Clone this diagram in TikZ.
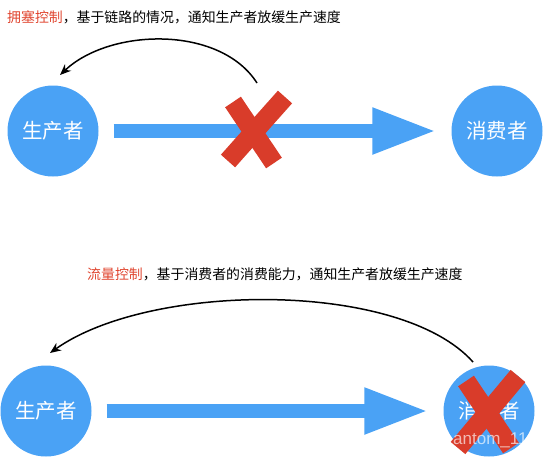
\documentclass[tikz,border=0pt]{standalone}
\usepackage{fontspec}
\newfontfamily\cjk{Noto Sans CJK SC}
\newfontfamily\wmfont{Liberation Sans}
\usetikzlibrary{arrows.meta}
\definecolor{nodeblue}{HTML}{4AA2F5}
\definecolor{crossred}{HTML}{D93C2A}
\definecolor{titlered}{HTML}{E0452F}
\tikzset{
  actor/.style={circle, fill=nodeblue, minimum size=91pt, inner sep=0pt, text=white, font=\cjk\fontsize{20.5}{24}\selectfont},
  flow/.style={draw=nodeblue, line width=14pt, shorten <=15pt, shorten >=15pt, -{Triangle[length=64pt,width=43pt]}},
  feedback/.style={draw=black, line width=1.5pt, -{Stealth[length=11pt,width=9pt]}},
  crossline/.style={draw=crossred, line width=19pt, line cap=butt},
  caption/.style={font=\cjk\fontsize{13.9}{16}\selectfont, inner sep=0pt, anchor=west},
}
\begin{document}
\begin{tikzpicture}[x=1pt,y=-1pt]
\useasboundingbox (0,0) rectangle (543,459);
% top scenario
\node[caption] (t1) at (7,17) {\textcolor{titlered}{拥塞控制}，基于链路的情况，通知生产者放缓生产速度};
\node[actor] (p1) at (53,131) {生产者};
\node[actor] (c1) at (497,131) {消费者};
\draw[flow] (p1.east) -- (c1.west);
\coordinate (s1) at (257,83);
\coordinate (e1) at (60,75);
\draw[feedback] (s1) .. controls (220,25) and (110,28) .. (e1);
\draw[crossline] (233,102) -- (274,163);
\draw[crossline] (285,97) -- (228,161);
% bottom scenario
\node[caption] (t2) at (87,274) {\textcolor{titlered}{流量控制}，基于消费者的消费能力，通知生产者放缓生产速度};
\node[actor] (p2) at (46,411) {生产者};
\node[actor] (c2) at (489,411) {消费者};
\draw[flow] (p2.east) -- (c2.west);
\coordinate (s2) at (473,362);
\coordinate (e2) at (50,353);
\draw[feedback] (s2) .. controls (400,280) and (150,282) .. (e2);
\draw[crossline] (466,381) -- (511,448);
\draw[crossline] (518,376) -- (458,448);
% watermark
\node[font=\wmfont\fontsize{17}{20}\selectfont, text=white, opacity=0.65, anchor=west, inner sep=0pt] (wm) at (453,440) {antom\_11};
\end{tikzpicture}
\end{document}
